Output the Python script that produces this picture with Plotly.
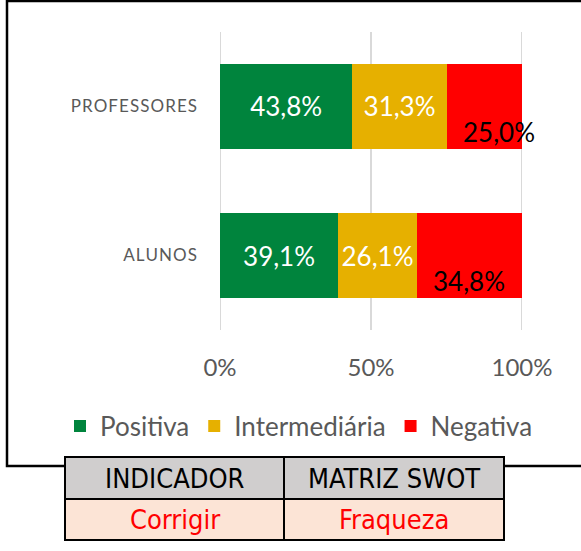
import plotly.graph_objects as go

W, H = 581, 551

categories = ["PROFESSORES", "ALUNOS"]
series_names = ["Positiva", "Intermediária", "Negativa"]
positiva = [43.8, 39.1]
intermediaria = [31.3, 26.1]
negativa = [25.0, 34.8]
colors = ["#00843D", "#E6B000", "#FF0000"]
x_tickvals = [0, 0.5, 1.0]
x_ticktext = ["0%", "50%", "100%"]
table_header = ["INDICADOR", "MATRIZ SWOT"]
table_row = ["Corrigir", "Fraqueza"]

FONT = "Lato, 'Open Sans', sans-serif"
NARROW = "'DejaVu Sans Condensed', 'Liberation Sans Narrow', sans-serif"


def px(x):
    return x / W


def py(y):
    return 1 - y / H


def fmt(v):
    return f"{v:.1f}%".replace(".", ",")


fig = go.Figure()
all_series = [positiva, intermediaria, negativa]
for i, (name, vals) in enumerate(zip(series_names, all_series)):
    show_text = i < 2
    fig.add_trace(go.Bar(
        name=name,
        y=categories,
        x=[v / 100 for v in vals],
        orientation="h",
        marker=dict(color=colors[i], line=dict(width=0)),
        width=0.57,
        text=[fmt(v) for v in vals] if show_text else None,
        textposition="inside" if show_text else "none",
        insidetextanchor="middle",
        textangle=0,
        constraintext="none",
        textfont=dict(color="white", size=26, family=FONT),
        hoverinfo="skip",
    ))

# Negativa labels (black, lower in the segment)
neg_xshift = [14, 0]
for j, cat in enumerate(categories):
    start = (positiva[j] + intermediaria[j]) / 100
    mid = start + negativa[j] / 200
    fig.add_annotation(
        x=mid, y=cat, xref="x", yref="y",
        text=fmt(negativa[j]), showarrow=False,
        font=dict(color="black", size=26, family=FONT),
        yshift=-25, xshift=neg_xshift[j],
    )

shapes = []
# vertical gridlines
for tv in x_tickvals:
    shapes.append(dict(type="line", xref="x", yref="y domain", x0=tv, x1=tv, y0=0, y1=1,
                       line=dict(color="#D9D9D9", width=2), layer="below"))
# outer frame
shapes.append(dict(type="rect", xref="paper", yref="paper",
                   x0=px(7), x1=px(620), y0=py(466), y1=py(1),
                   line=dict(color="black", width=2.5), layer="below"))
# table
tx0, tx1, tmid = 65, 504, 284
ty0, ty1, ty2 = 457, 499, 540
shapes.append(dict(type="rect", xref="paper", yref="paper",
                   x0=px(tx0), x1=px(tx1), y0=py(ty1), y1=py(ty0),
                   fillcolor="#D0CECE", line=dict(color="black", width=2)))
shapes.append(dict(type="rect", xref="paper", yref="paper",
                   x0=px(tx0), x1=px(tx1), y0=py(ty2), y1=py(ty1),
                   fillcolor="#FCE4D6", line=dict(color="black", width=2)))
shapes.append(dict(type="line", xref="paper", yref="paper",
                   x0=px(tmid), x1=px(tmid), y0=py(ty2), y1=py(ty0),
                   line=dict(color="black", width=2)))

for k in range(2):
    cx = (tx0 + tmid) / 2 if k == 0 else (tmid + tx1) / 2
    fig.add_annotation(x=px(cx), y=py((ty0 + ty1) / 2), xref="paper", yref="paper",
                       text=table_header[k], showarrow=False,
                       font=dict(color="black", size=27, family=NARROW),
                       xanchor="center", yanchor="middle")
    fig.add_annotation(x=px(cx), y=py((ty1 + ty2) / 2), xref="paper", yref="paper",
                       text=table_row[k], showarrow=False,
                       font=dict(color="#FF0000", size=27, family=NARROW),
                       xanchor="center", yanchor="middle")

spaced = ["\u200a".join(list(c)) for c in categories]

fig.update_layout(
    width=W, height=H, autosize=False,
    margin=dict(l=0, r=0, t=0, b=0),
    paper_bgcolor="white", plot_bgcolor="rgba(0,0,0,0)",
    barmode="stack",
    font=dict(family=FONT, color="#595959"),
    showlegend=True,
    legend=dict(orientation="h", x=px(299), xanchor="center", y=py(426), yanchor="middle",
                font=dict(size=26, color="#595959", family=FONT), traceorder="normal",
                itemclick=False, bgcolor="rgba(0,0,0,0)"),
    xaxis=dict(domain=[px(220), px(522)], range=[0, 1.0], tickvals=x_tickvals,
               ticktext=x_ticktext, showgrid=False,
               zeroline=False, showline=False, ticks="", automargin=False,
               tickfont=dict(size=24, color="#595959", family=FONT), ticklabelstandoff=21),
    yaxis=dict(domain=[py(330), py(32)], categoryorder="array", categoryarray=categories[::-1],
               tickvals=categories, ticktext=spaced, showgrid=False, zeroline=False,
               showline=False, ticks="", automargin=False,
               tickfont=dict(size=17, color="#595959", family=FONT), ticklabelstandoff=22),
    shapes=shapes,
)

fig.write_html("out.html", config={"displayModeBar": False},
               post_script="document.body.style.margin='0';")
